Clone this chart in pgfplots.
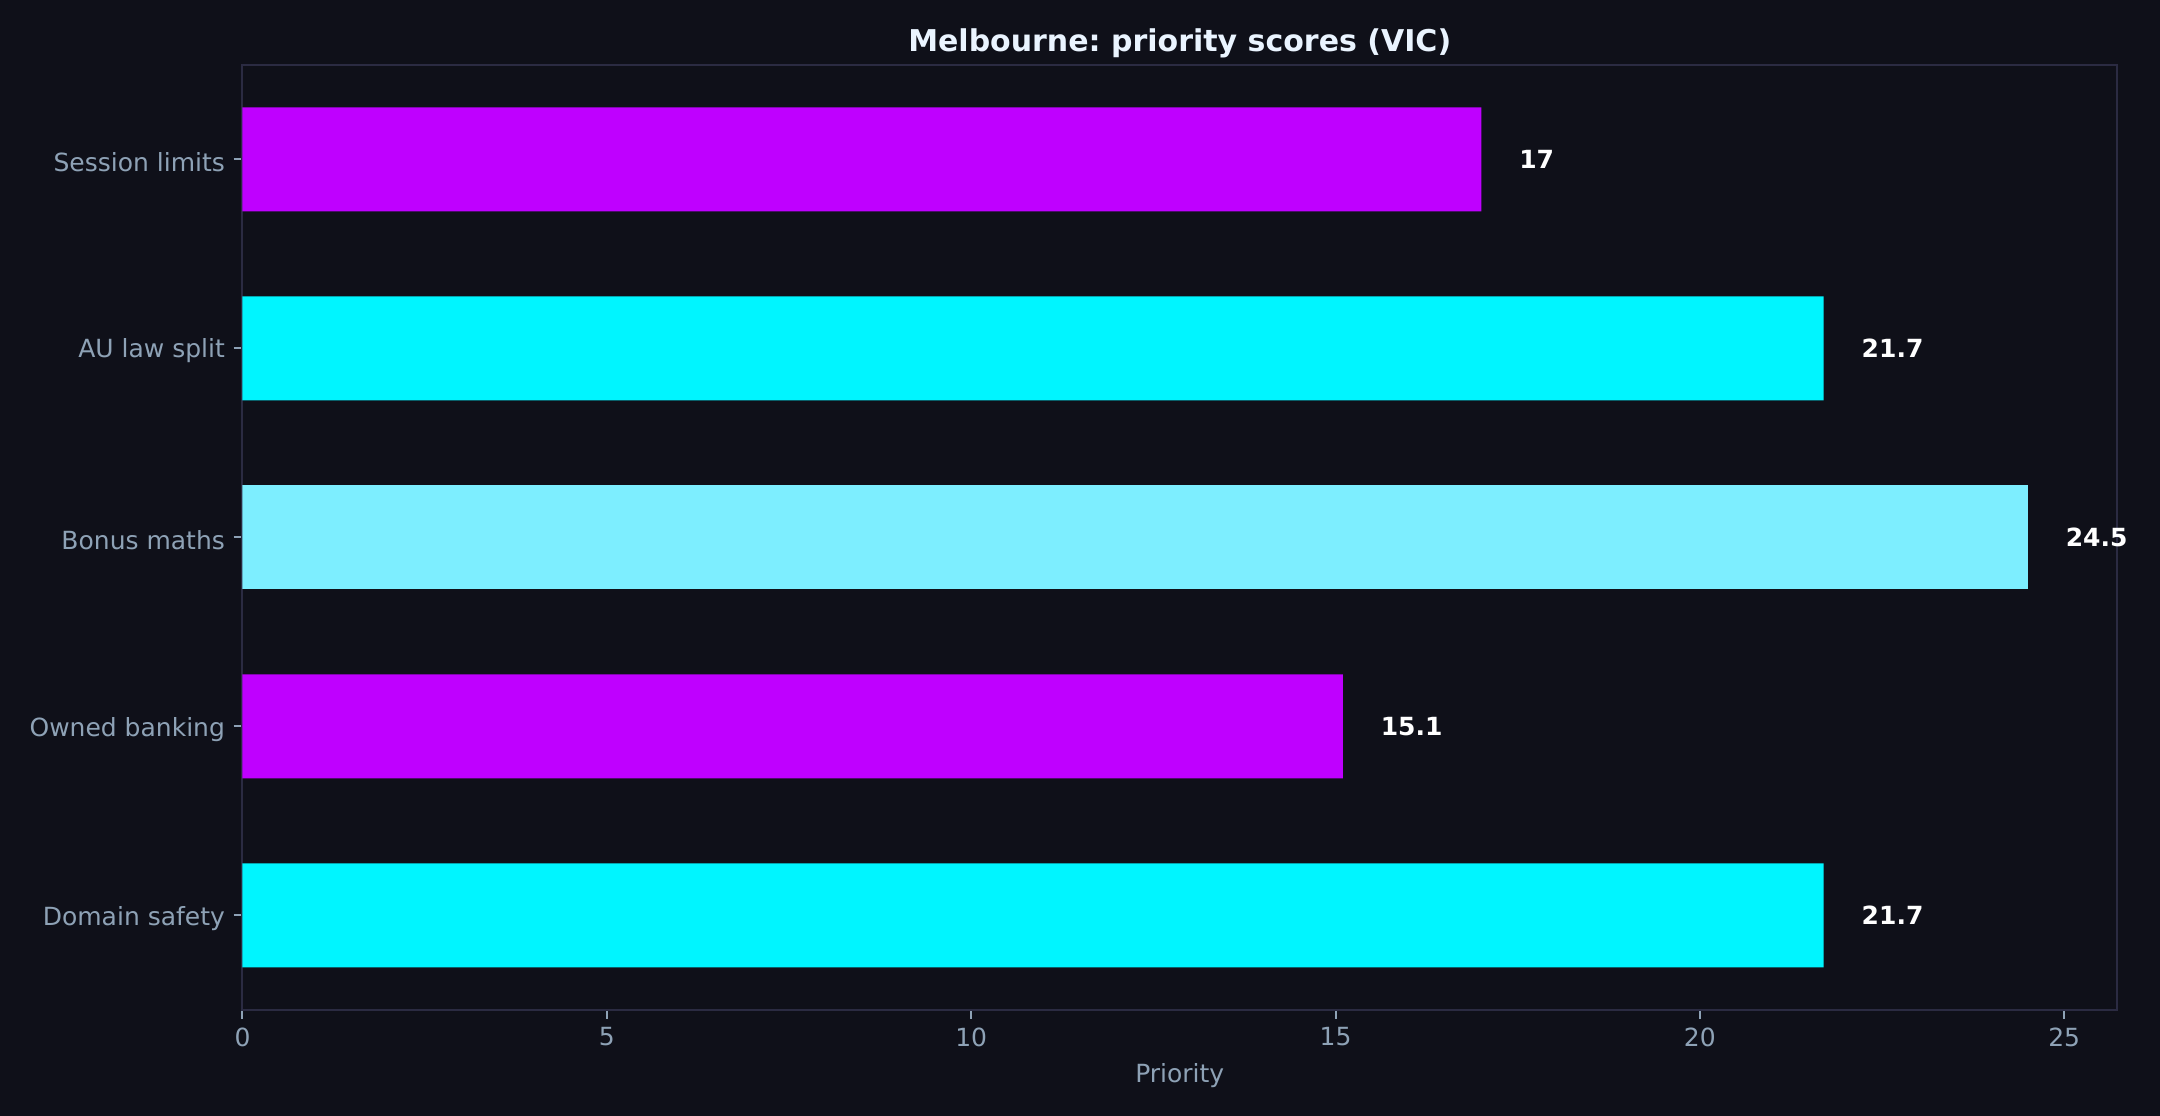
\documentclass[border=0pt]{standalone}
\usepackage{fontspec}
\setmainfont{DejaVu Sans}
\usepackage{pgfplots}
\pgfplotsset{compat=1.18}
\usetikzlibrary{backgrounds}
\definecolor{bgc}{HTML}{0F1019}
\definecolor{spine}{HTML}{2B2B42}
\definecolor{ticktxt}{HTML}{8EA2B6}
\definecolor{titletxt}{HTML}{EAF4FF}
\definecolor{mag}{HTML}{BF00FF}
\definecolor{cyn}{HTML}{00F5FF}
\definecolor{lcyn}{HTML}{7DEEFF}
\frenchspacing

\begin{document}
\begin{tikzpicture}
\begin{axis}[
  scale only axis,
  width=749.8pt, height=378.1pt,
  xbar, bar width=0.55, bar shift=0pt,
  xmin=0, xmax=25.725, ymin=-0.5, ymax=4.5,
  ytick={0,1,2,3,4},
  yticklabels={Domain safety, Owned banking, Bonus maths, AU law split, Session limits},
  xtick={0,5,10,15,20,25},
  tick pos=left, tick align=outside, major tick length=3.5pt,
  every tick/.style={ticktxt, line width=0.8pt},
  axis line style={spine, line width=0.8pt},
  ticklabel style={font=\fontsize{10}{12}\selectfont, text=ticktxt},
  yticklabel style={yshift=-1.1pt},
  /pgf/number format/assume math mode=true,
  title={Melbourne: priority scores (VIC)},
  title style={font=\fontsize{12}{14}\selectfont\bfseries, text=titletxt,
    at={(0.5,1)}, anchor=base, yshift=-0.6pt},
  xlabel={Priority},
  xlabel style={font=\fontsize{10}{12}\selectfont, text=ticktxt},
  nodes near coords,
  point meta=explicit symbolic,
  every node near coord/.style={font=\fontsize{10}{12}\selectfont\bfseries,
    text=white, anchor=west, inner sep=0pt, xshift=15pt},
]
\addplot[fill=mag, draw=none] coordinates {(17,4) [17] (15.1,1) [15.1]};
\addplot[fill=cyn, draw=none] coordinates {(21.7,3) [21.7] (21.7,0) [21.7]};
\addplot[fill=lcyn, draw=none] coordinates {(24.5,2) [24.5]};
\end{axis}
\begin{pgfonlayer}{background}
\fill[bgc] ([shift={(-97pt,-42.4pt)}]current axis.south west) rectangle ++(864pt,446.4pt);
\end{pgfonlayer}
\end{tikzpicture}
\end{document}
